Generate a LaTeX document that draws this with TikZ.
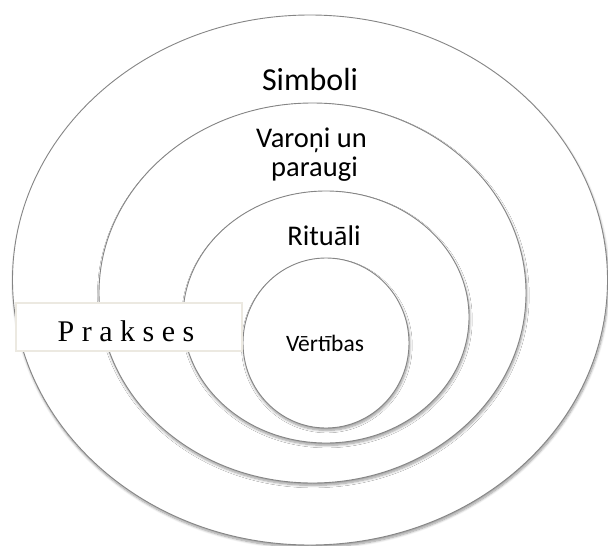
\documentclass[tikz,border=0pt]{standalone}
\usepackage{fontspec}
\setmainfont{Carlito}
\newfontfamily\praksesfont{Liberation Serif}
\usetikzlibrary{shapes.geometric,shadows.blur}
\begin{document}
\begin{tikzpicture}[x=1pt,y=-1pt,
  ring/.style={ellipse, draw=black!48, line width=0.9pt, fill=white, inner sep=0pt,
    blur shadow={shadow xshift=0.8pt, shadow yshift=-2.4pt, shadow blur steps=8, shadow opacity=40, shadow blur radius=2.4pt}},
  lbl/.style={anchor=base, inner sep=0pt, text=black},
  tagbox/.style={draw={rgb,255:red,236;green,233;blue,225}, line width=1.3pt, fill=white, minimum width=226pt, minimum height=48pt, inner sep=0pt}
]
\useasboundingbox (0,0) rectangle (608,546);
\node[ring, minimum width=595pt, minimum height=530pt] (simboli) at (310,280) {};
\node[ring, minimum width=427pt, minimum height=380pt] (varoni) at (312.5,293) {};
\node[ring, minimum width=286pt, minimum height=252pt] (rituali) at (326,317) {};
\node[ring, minimum width=166pt, minimum height=170pt] (vertibas) at (326,343) {};
\node[tagbox] (prakses) at (129,327) {};
\node[lbl, font=\fontsize{32}{36}\selectfont] (tsimboli) at (310,90) {Simboli};
\node[lbl, font=\fontsize{28.5}{32}\selectfont] (tvaroni) at (311.5,147.7) {Varoņi un};
\node[lbl, font=\fontsize{28.5}{32}\selectfont] (tparaugi) at (314.5,176.7) {paraugi};
\node[lbl, font=\fontsize{28.5}{32}\selectfont] (trituali) at (324,245) {Rituāli};
\node[lbl, font=\fontsize{23.5}{28}\selectfont] (tvertibas) at (325,351.7) {Vērtības};
\node[lbl, font=\praksesfont\fontsize{30}{34}\selectfont] (tprakses) at (126,341) {P r a k s e s};
\end{tikzpicture}
\end{document}
